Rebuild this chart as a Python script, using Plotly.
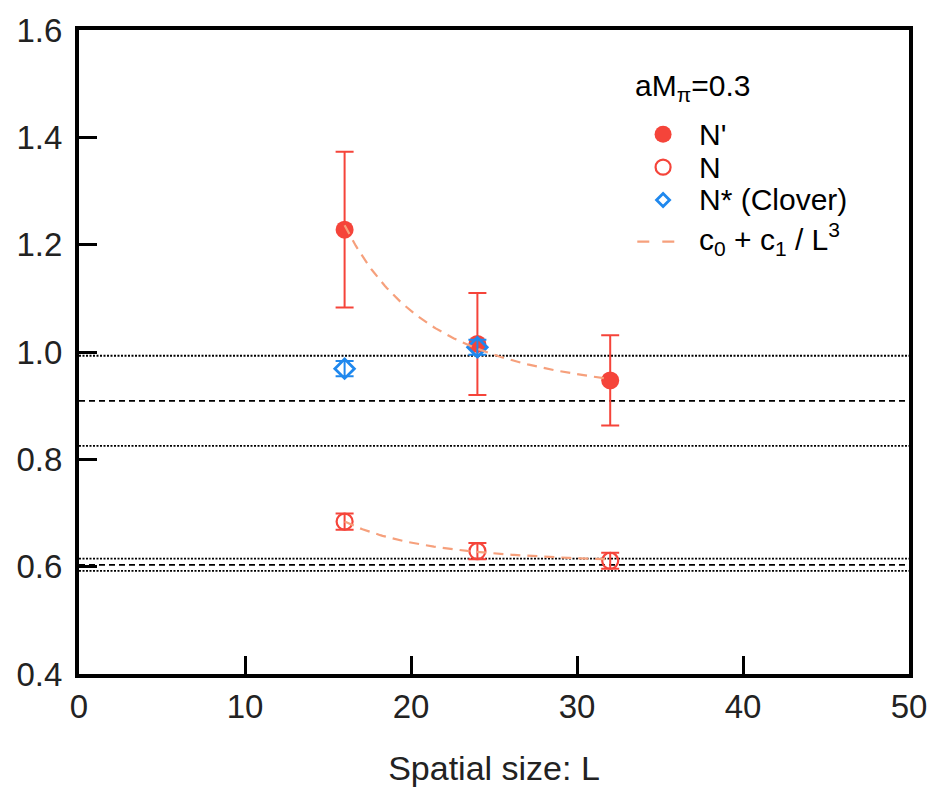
import numpy as np
import plotly.graph_objects as go

# ---- data ----
L_nprime = [16, 24, 32]
y_nprime = [1.228, 1.015, 0.947]
e_nprime = [0.145, 0.095, 0.084]

L_n = [16, 24, 32]
y_n = [0.684, 0.629, 0.611]
e_n = [0.015, 0.015, 0.015]

L_clover = [16, 24]
y_clover = [0.969, 1.009]
e_clover = [0.014, 0.014]

# fit c0 + c1 / L^3 parameters
fit_nprime = dict(c0=0.909, c1=1340.0, Lmin=16, Lmax=32)
fit_n = dict(c0=0.6035, c1=330.0, Lmin=16, Lmax=32)

# infinite-volume bands: (lower, central, upper)
band_nprime = [0.825, 0.909, 0.993]
band_n = [0.592, 0.6035, 0.615]

x_range = [0, 50]
y_range = [0.4, 1.6]
x_ticks = [0, 10, 20, 30, 40, 50]
y_ticks = [0.4, 0.6, 0.8, 1.0, 1.2, 1.4, 1.6]

RED = "#f5443a"
BLUE = "#1f88ee"
FIT = "#f6a07c"
FONT = "Liberation Sans, Arial, Helvetica, sans-serif"

fig = go.Figure()

# horizontal band lines
for band in (band_nprime, band_n):
    for i, yv in enumerate(band):
        fig.add_trace(go.Scatter(
            x=x_range, y=[yv, yv], mode="lines",
            line=dict(color="black", width=1.8, dash="6px,4px" if i == 1 else "2px,1.5px"),
            showlegend=False, hoverinfo="skip"))

# N'
fig.add_trace(go.Scatter(
    x=L_nprime, y=y_nprime, mode="markers",
    marker=dict(symbol="circle", size=18, color=RED),
    error_y=dict(type="data", array=e_nprime, color=RED, thickness=2, width=9),
    showlegend=False))

# N
fig.add_trace(go.Scatter(
    x=L_n, y=y_n, mode="markers",
    marker=dict(symbol="circle-open", size=16, color=RED, line=dict(width=2.2, color=RED)),
    error_y=dict(type="data", array=e_n, color=RED, thickness=2, width=9),
    showlegend=False))

# N* (Clover)
fig.add_trace(go.Scatter(
    x=L_clover, y=y_clover, mode="markers",
    marker=dict(symbol="diamond-open", size=15, color=BLUE, line=dict(width=2.8, color=BLUE)),
    error_y=dict(type="data", array=e_clover, color=BLUE, thickness=2, width=9),
    showlegend=False))

# fit curves
for f in (fit_nprime, fit_n):
    Ls = np.linspace(f["Lmin"], f["Lmax"], 120)
    fig.add_trace(go.Scatter(
        x=Ls, y=f["c0"] + f["c1"] / Ls**3, mode="lines",
        line=dict(color=FIT, width=2.2, dash="10px,7px"),
        showlegend=False, hoverinfo="skip"))

# ---- manual legend (paper coords) ----
def px2x(px):
    return (px - 79) / 837.0

def py2y(py):
    return (678 - py) / 648.0

key_x = px2x(668)
text_x = px2x(702)
rows = [135, 168, 201, 240]
shapes = []
shapes.append(dict(type="circle", xref="paper", yref="paper",
                   xsizemode="pixel", ysizemode="pixel",
                   xanchor=key_x, yanchor=py2y(rows[0]),
                   x0=-8.5, x1=8.5, y0=-8.5, y1=8.5,
                   fillcolor=RED, line=dict(color=RED, width=0)))
shapes.append(dict(type="circle", xref="paper", yref="paper",
                   xsizemode="pixel", ysizemode="pixel",
                   xanchor=key_x, yanchor=py2y(rows[1]),
                   x0=-7.5, x1=7.5, y0=-7.5, y1=7.5,
                   line=dict(color=RED, width=2.2)))
shapes.append(dict(type="path", xref="paper", yref="paper",
                   xsizemode="pixel", ysizemode="pixel",
                   xanchor=key_x, yanchor=py2y(rows[2]),
                   path="M -6.5 0 L 0 6.5 L 6.5 0 L 0 -6.5 Z",
                   line=dict(color=BLUE, width=2.8)))
shapes.append(dict(type="line", xref="paper", yref="paper",
                   x0=px2x(642), x1=px2x(682), y0=py2y(rows[3] + 3), y1=py2y(rows[3] + 3),
                   line=dict(color=FIT, width=2.2, dash="12px,13px")))

annotations = [
    dict(x=px2x(638), y=py2y(88), xref="paper", yref="paper", xanchor="left", yanchor="middle",
         text="aM<sub>π</sub>=0.3", showarrow=False, font=dict(size=30, color="black", family=FONT)),
]
labels = ["N'", "N", "N* (Clover)", "c<sub>0</sub> + c<sub>1</sub> / L<sup>3</sup>"]
for r, lab in zip(rows, labels):
    annotations.append(dict(x=text_x, y=py2y(r), xref="paper", yref="paper",
                            xanchor="left", yanchor="middle", text=lab, showarrow=False,
                            font=dict(size=30, color="black", family=FONT)))

axis_common = dict(
    showline=True, linecolor="black", linewidth=4, mirror=True,
    showgrid=False, zeroline=False,
    ticks="inside", ticklen=18, tickwidth=3, tickcolor="black",
    tickfont=dict(size=33, color="#222", family=FONT),
)

fig.update_layout(
    width=939, height=794,
    margin=dict(l=79, r=23, t=30, b=116),
    paper_bgcolor="white", plot_bgcolor="white",
    xaxis=dict(range=x_range, tickvals=x_ticks, ticktext=[str(v) for v in x_ticks],
               title=dict(text="Spatial size: L", font=dict(size=34, color="#222", family=FONT),
                          standoff=34),
               ticklabelstandoff=0, **axis_common),
    yaxis=dict(range=y_range, tickvals=y_ticks, ticktext=[f"{v:.1f}" for v in y_ticks],
               ticklabelstandoff=6, **axis_common),
    shapes=shapes, annotations=annotations,
    showlegend=False,
)

fig.write_html("out.html")
